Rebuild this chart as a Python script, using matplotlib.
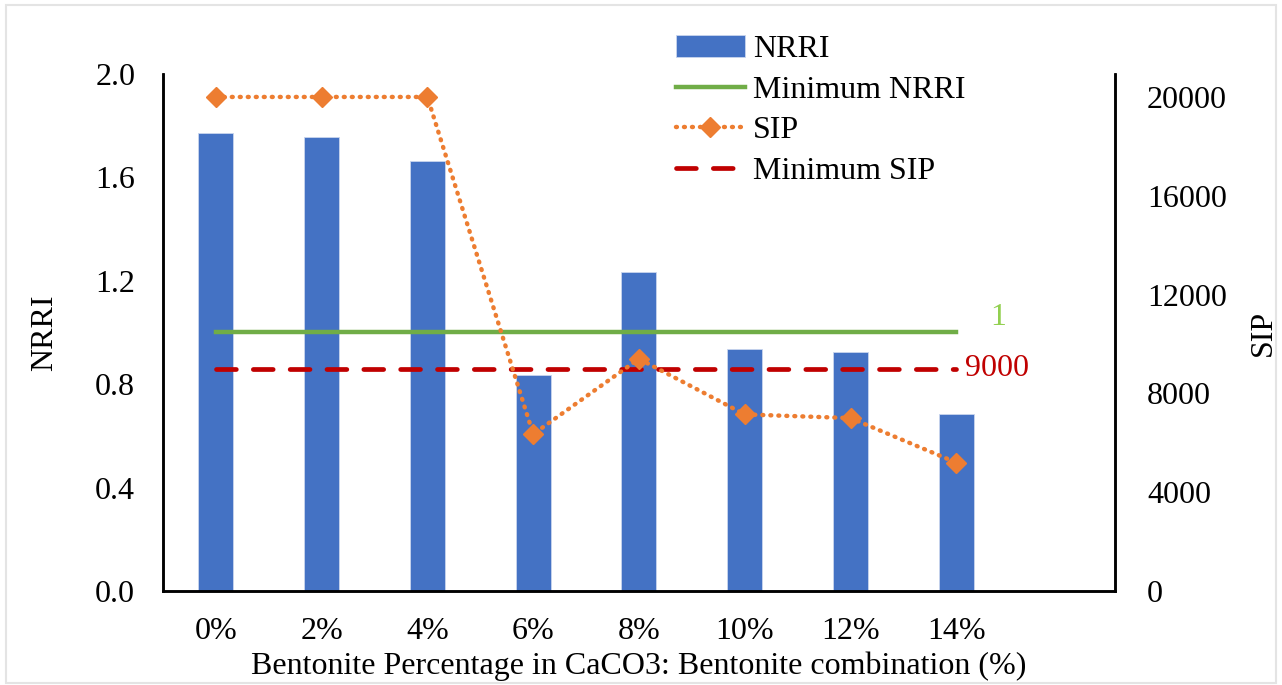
import numpy as np
import matplotlib.pyplot as plt
from matplotlib.patches import Rectangle

plt.rcParams['font.family'] = ['Liberation Serif', 'DejaVu Serif']

categories = ['0%', '2%', '4%', '6%', '8%', '10%', '12%', '14%']
nrri = [1.77, 1.755, 1.665, 0.835, 1.235, 0.935, 0.925, 0.685]
sip = [20000, 20000, 20000, 6350, 9400, 7150, 7000, 5200]
min_nrri = 1
min_sip = 9000

x = np.arange(len(categories))
fs = 23

fig = plt.figure(figsize=(12.82, 6.85), dpi=100)
fig.patches.append(Rectangle((0.005, 0.003), 0.99, 0.99, transform=fig.transFigure,
                             fill=False, edgecolor='#e4e4e4', linewidth=1.5))
ax = fig.add_axes([0.1271, 0.1372, 0.7426, 0.7548])
ax2 = ax.twinx()

bars = ax.bar(x, nrri, width=0.33, color='#4472C4', edgecolor='#c9d5ee',
              linewidth=0.6, label='NRRI', zorder=2)
l1, = ax.plot(x, [min_nrri] * len(x), color='#70AD47', linewidth=3.2,
              label='Minimum NRRI', zorder=3)
l2, = ax2.plot(x, sip, color='#ED7D31', linestyle=(0, (0.2, 1.6)), linewidth=3.2,
               dash_capstyle='round', marker='D', markersize=10,
               label='SIP', zorder=4)
l3, = ax2.plot(x, [min_sip] * len(x), color='#C00000', linestyle=(0, (4.2, 3.6)),
               linewidth=3.4, dash_capstyle='round', label='Minimum SIP', zorder=3)

ax.set_xlim(-0.5, 8.5)
ax.set_ylim(0, 2.0)
ax2.set_ylim(0, 20930)
ax.set_yticks(np.arange(0, 2.01, 0.4))
ax.set_yticklabels([f'{v:.1f}' for v in np.arange(0, 2.01, 0.4)])
ax2.set_yticks(np.arange(0, 20001, 4000))
ax.set_xticks(x)
ax.set_xticklabels(categories)

for a in (ax, ax2):
    a.spines['top'].set_visible(False)
    for s in ('left', 'right', 'bottom'):
        a.spines[s].set_linewidth(1.8)
    a.tick_params(length=0, labelsize=fs)
ax.tick_params(axis='y', pad=20)
ax2.tick_params(axis='y', pad=23)
ax.tick_params(axis='x', pad=19)

ax.set_ylabel('NRRI', fontsize=fs, labelpad=26)
ax2.set_ylabel('SIP', fontsize=fs, labelpad=16)
ax.set_xlabel('Bentonite Percentage in CaCO3: Bentonite combination (%)',
              fontsize=fs, labelpad=4)

ax.text(7.32, min_nrri, '1', color='#92D050', fontsize=fs, ha='left', va='bottom')
ax2.text(7.08, min_sip, '9000', color='#C00000', fontsize=fs, ha='left', va='center')

ax.legend(handles=[bars, l1, l2, l3], loc='upper left',
          bbox_to_anchor=(0.5255, 1.10), frameon=False, fontsize=fs,
          handlelength=2.15, handletextpad=0.25, labelspacing=0.35,
          borderaxespad=0)

fig.savefig('out.png', dpi=100)
